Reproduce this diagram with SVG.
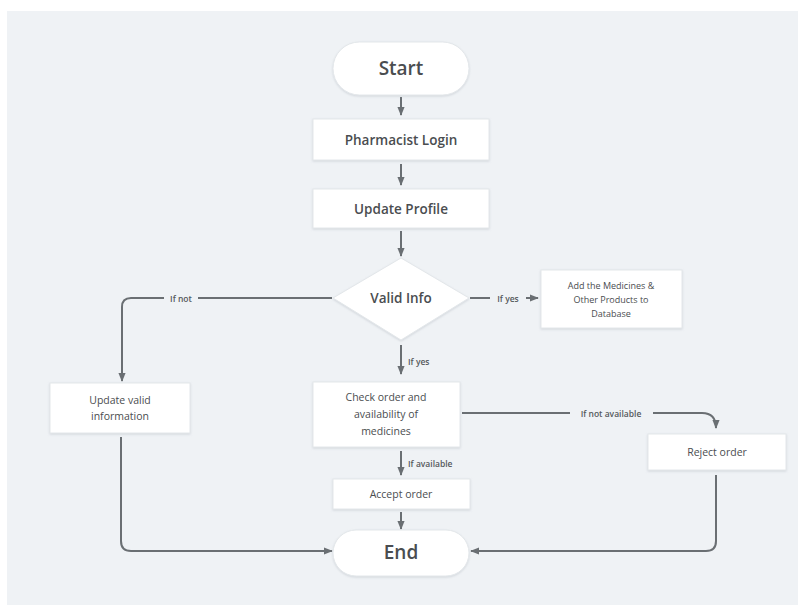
<svg xmlns="http://www.w3.org/2000/svg" width="798" height="606" viewBox="0 0 798 606">
<defs>
<marker id="ah" viewBox="0 0 10 10" refX="9" refY="5" markerWidth="4.5" markerHeight="4.5" orient="auto-start-reverse">
<path d="M0,1 L10,5 L0,9 Z" fill="#6a6f73"/>
</marker>
<filter id="sh" x="-10%" y="-10%" width="120%" height="130%">
<feDropShadow dx="0" dy="1" stdDeviation="1.2" flood-color="#9aa3ad" flood-opacity="0.35"/>
</filter>
</defs>
<style>
.node{fill:#ffffff;stroke:#e3e7ea;stroke-width:1;filter:url(#sh)}
.t{font-family:"Open Sans","Liberation Sans",sans-serif;fill:#4a4d50;text-anchor:middle;dominant-baseline:central}
.big{font-size:19px;font-weight:600}
.mid{font-size:13.5px;font-weight:600}
.sm{font-size:10.5px}
.lbl{font-family:"Open Sans","Liberation Sans",sans-serif;fill:#55595c;font-size:8.5px;font-weight:600;dominant-baseline:central}
.c{fill:none;stroke:#6a6f73;stroke-width:2}
</style>
<rect x="7" y="11" width="791" height="594" fill="#eff2f5"/>
<g id="connectors">
<line class="c" x1="401" y1="97" x2="401" y2="115" marker-end="url(#ah)"/>
<line class="c" x1="401" y1="164" x2="401" y2="185" marker-end="url(#ah)"/>
<line class="c" x1="401" y1="231" x2="401" y2="256" marker-end="url(#ah)"/>
<path class="c" d="M332,298 H198 M164,298 H131 Q122,298 122,307 V381" marker-end="url(#ah)"/>
<path class="c" d="M470,298 H490 M526,298 H538" marker-end="url(#ah)"/>
<line class="c" x1="401" y1="345" x2="401" y2="374" marker-end="url(#ah)"/>
<path class="c" d="M462,413 H570 M653,413 H702 Q716,413 716,428" marker-end="url(#ah)"/>
<line class="c" x1="401" y1="451" x2="401" y2="475" marker-end="url(#ah)"/>
<line class="c" x1="401" y1="512" x2="401" y2="529" marker-end="url(#ah)"/>
<path class="c" d="M121,437 V541 Q121,551 131,551 H332" marker-end="url(#ah)"/>
<path class="c" d="M716,475 V541 Q716,551 706,551 H471" marker-end="url(#ah)"/>
<text class="lbl" x="181" y="298" text-anchor="middle">If not</text>
<text class="lbl" x="508" y="298" text-anchor="middle">If yes</text>
<text class="lbl" x="408" y="361">If yes</text>
<text class="lbl" x="611" y="413" text-anchor="middle">If not available</text>
<text class="lbl" x="408" y="463">If available</text>
</g>
<g id="start">
<rect class="node" x="333" y="42" width="136" height="53" rx="26.5"/>
<text class="t big" x="401" y="68">Start</text>
</g>
<g id="login">
<rect class="node" x="313" y="119" width="176" height="41"/>
<text class="t mid" x="401" y="140">Pharmacist Login</text>
</g>
<g id="profile">
<rect class="node" x="313" y="189" width="176" height="39"/>
<text class="t mid" x="401" y="209">Update Profile</text>
</g>
<g id="valid">
<polygon class="node" points="401,258 469,298 401,340 333,298"/>
<text class="t mid" x="401" y="298">Valid Info</text>
</g>
<g id="add">
<rect class="node" x="541" y="270" width="141" height="58"/>
<text class="t sm" x="611" y="285" style="font-size:9px">Add the Medicines &amp;</text>
<text class="t sm" x="611" y="299" style="font-size:9px">Other  Products to</text>
<text class="t sm" x="611" y="313" style="font-size:9px">Database</text>
</g>
<g id="update-valid">
<rect class="node" x="50" y="383" width="140" height="50"/>
<text class="t sm" x="120" y="400">Update valid</text>
<text class="t sm" x="120" y="416">information</text>
</g>
<g id="check">
<rect class="node" x="313" y="382" width="147" height="65"/>
<text class="t sm" x="386" y="397">Check order and</text>
<text class="t sm" x="386" y="414">availability of</text>
<text class="t sm" x="386" y="431">medicines</text>
</g>
<g id="reject">
<rect class="node" x="648" y="434" width="138" height="36"/>
<text class="t sm" x="717" y="452">Reject order</text>
</g>
<g id="accept">
<rect class="node" x="333" y="479" width="137" height="30"/>
<text class="t sm" x="401" y="494">Accept order</text>
</g>
<g id="end">
<rect class="node" x="333" y="530" width="136" height="46" rx="23"/>
<text class="t big" x="401" y="552">End</text>
</g>
</svg>
